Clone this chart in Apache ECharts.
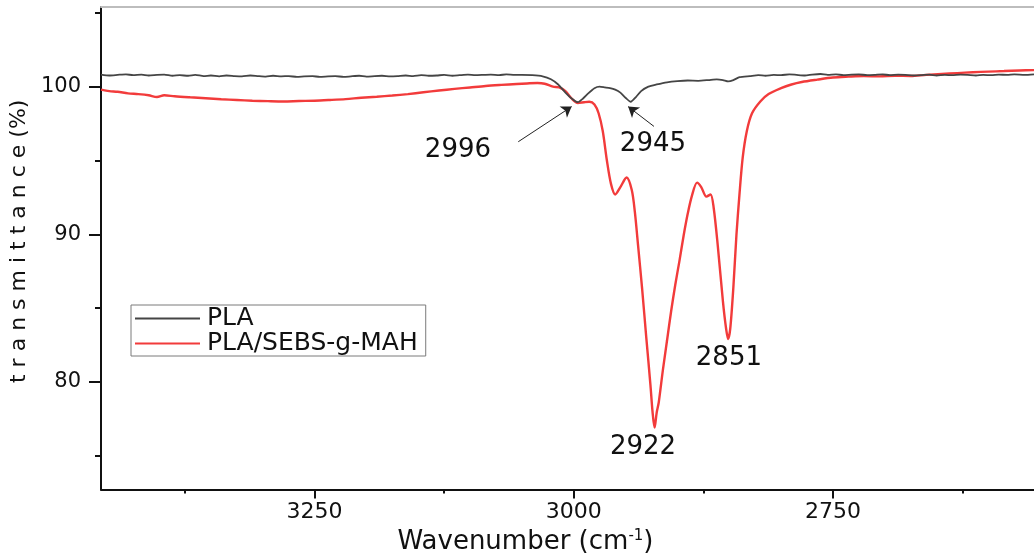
<!DOCTYPE html>
<html>
<head>
<meta charset="utf-8">
<script src="https://cdn.jsdelivr.net/npm/echarts@6/dist/echarts.min.js"></script>
<style>
  html, body { margin: 0; padding: 0; background: #fff; }
  #chart { width: 1034px; height: 560px; }
</style>
</head>
<body>
<div id="chart"></div>
<script>
// FTIR spectra, C-H stretching region (wavenumber in cm-1, transmittance in %)
const plaWavenumber = [3456,3448,3440,3432,3425,3417,3410,3402,3395,3387,3380,3372,3365,3357,3350,3342,3335,3327,3320,3312,3305,3297,3290,3282,3275,3267,3260,3252,3245,3237,3230,3222,3215,3207,3200,3192,3185,3177,3170,3162,3155,3147,3140,3132,3125,3117,3110,3102,3095,3087,3080,3072,3065,3057,3050,3040,3030,3022,3015,3008,3002,2996,2991,2986,2980,2975,2970,2965,2960,2955,2950,2945,2940,2935,2928,2920,2910,2900,2890,2880,2870,2862,2856,2851,2846,2840,2830,2822,2815,2807,2800,2792,2785,2777,2770,2762,2755,2747,2740,2732,2725,2717,2710,2702,2695,2687,2680,2672,2665,2657,2650,2642,2635,2627,2620,2612,2605,2597,2590,2582,2575,2565,2556];
const plaTransmittance = [100.82,100.76,100.80,100.84,100.78,100.82,100.76,100.80,100.82,100.74,100.78,100.74,100.80,100.72,100.76,100.70,100.76,100.72,100.70,100.76,100.72,100.68,100.74,100.70,100.72,100.66,100.70,100.72,100.66,100.70,100.72,100.66,100.70,100.74,100.68,100.72,100.74,100.70,100.72,100.76,100.72,100.78,100.74,100.76,100.80,100.74,100.78,100.82,100.78,100.80,100.82,100.78,100.84,100.80,100.80,100.78,100.70,100.50,100.15,99.60,99.20,98.95,99.20,99.55,99.90,100.00,99.95,99.90,99.80,99.60,99.25,98.98,99.30,99.70,100.00,100.15,100.30,100.38,100.42,100.40,100.45,100.50,100.45,100.36,100.45,100.65,100.72,100.78,100.74,100.80,100.78,100.84,100.80,100.76,100.82,100.86,100.80,100.84,100.78,100.82,100.84,100.78,100.80,100.84,100.78,100.82,100.80,100.76,100.78,100.82,100.76,100.80,100.78,100.82,100.80,100.76,100.80,100.78,100.82,100.80,100.84,100.80,100.84];

const blendWavenumber = [3456,3448,3440,3430,3420,3410,3402,3395,3385,3370,3355,3340,3325,3310,3295,3280,3265,3250,3235,3220,3205,3190,3175,3160,3145,3130,3115,3100,3085,3070,3055,3045,3035,3028,3020,3014,3008,3002,2996,2990,2985,2980,2976,2972,2968,2964,2960,2955,2949,2944,2941,2938,2934,2930,2926,2924,2922,2920,2918,2914,2910,2906,2902,2898,2894,2890,2886,2881,2877,2872,2868,2865,2861,2856,2853,2851,2849,2846,2843,2840,2837,2833,2828,2820,2812,2800,2790,2780,2765,2750,2735,2720,2705,2690,2675,2660,2645,2630,2615,2600,2585,2570,2556];
const blendTransmittance = [99.80,99.70,99.66,99.55,99.50,99.42,99.30,99.42,99.35,99.28,99.22,99.15,99.10,99.05,99.02,99.00,99.03,99.05,99.10,99.16,99.25,99.32,99.40,99.50,99.62,99.74,99.85,99.95,100.05,100.12,100.18,100.22,100.25,100.20,100.00,99.96,99.70,99.20,98.90,98.95,98.98,98.80,98.20,97.00,95.00,93.40,92.70,93.20,93.85,93.00,91.50,89.30,86.30,83.00,79.80,78.00,76.90,77.90,78.60,80.80,82.80,84.80,86.60,88.20,89.90,91.40,92.60,93.50,93.20,92.55,92.70,91.80,89.20,85.40,83.60,82.90,83.60,86.40,90.00,92.80,95.20,97.00,98.20,99.00,99.50,99.90,100.15,100.32,100.48,100.62,100.68,100.72,100.70,100.74,100.72,100.80,100.86,100.92,100.98,101.02,101.06,101.10,101.12];

// Annotated band positions (cm-1)
const plaBands = [2996, 2945];
const blendBands = [2922, 2851];

const xMajorTicks = [3250, 3000, 2750];
const xMinorTicks = [3375, 3125, 2875, 2625];
const yMajorTicks = [80, 90, 100];
const yMinorTicks = [75, 85, 95, 105];

const FONT = 'DejaVu Sans';

function pairs(xs, ys) { return xs.map((x, i) => [x, ys[i]]); }

const chart = echarts.init(document.getElementById('chart'), null, { renderer: 'canvas' });

const xRange = { min: 2556, max: 3456, inverse: true };
const yRange = { min: 72.7, max: 105.4 };
const plain = v => String(v);

const option = {
  animation: false,
  backgroundColor: '#ffffff',
  grid: { left: 101, right: 0, top: 7, bottom: 63, containLabel: false },
  legend: {
    orient: 'vertical',
    left: 131,
    top: 305,
    padding: [1, 8, 0, 4],
    itemGap: 0,
    itemWidth: 65,
    itemHeight: 2,
    icon: 'rect',
    borderColor: '#7a7a7a',
    borderWidth: 1,
    textStyle: { fontFamily: FONT, fontSize: 25, lineHeight: 24, color: '#111', padding: [0, 0, 0, 2] },
    data: ['PLA', 'PLA/SEBS-g-MAH']
  },
  xAxis: [
    {
      type: 'value', ...xRange, position: 'bottom',
      name: 'Wavenumber (cm{sup|-1})',
      nameLocation: 'middle', nameGap: 30,
      nameTextStyle: {
        fontFamily: FONT, fontSize: 26, color: '#111', padding: [0, 84, 0, 0],
        rich: { sup: { fontFamily: FONT, fontSize: 15, verticalAlign: 'top', padding: [0, 0, 12, 0], color: '#111' } }
      },
      axisLine: { show: true, onZero: false, lineStyle: { color: '#111', width: 2 } },
      axisTick: { show: true, inside: false, length: 9, customValues: xMajorTicks, lineStyle: { color: '#111', width: 2 } },
      axisLabel: { show: true, customValues: xMajorTicks, formatter: plain, margin: 12, fontFamily: FONT, fontSize: 22, color: '#111' },
      splitLine: { show: false }
    },
    {
      type: 'value', ...xRange, position: 'bottom',
      axisLine: { show: false, onZero: false },
      axisTick: { show: true, inside: false, length: 4, customValues: xMinorTicks, lineStyle: { color: '#111', width: 2 } },
      axisLabel: { show: false },
      splitLine: { show: false }
    },
    {
      type: 'value', ...xRange, position: 'top',
      axisLine: { show: true, onZero: false, lineStyle: { color: '#bdbdbd', width: 2 } },
      axisTick: { show: false },
      axisLabel: { show: false },
      splitLine: { show: false }
    }
  ],
  yAxis: [
    {
      type: 'value', ...yRange, position: 'left',
      name: 't r a n s m i t t a n c e (%)',
      nameLocation: 'middle', nameGap: 48,
      nameTextStyle: { fontFamily: FONT, fontSize: 22, color: '#111', padding: [0, 0, 0, 14] },
      axisLine: { show: true, onZero: false, lineStyle: { color: '#111', width: 2 } },
      axisTick: { show: true, inside: false, length: 12, customValues: yMajorTicks, lineStyle: { color: '#111', width: 2 } },
      axisLabel: { show: true, customValues: yMajorTicks, formatter: plain, margin: 20, fontFamily: FONT, fontSize: 21, color: '#111' },
      splitLine: { show: false }
    },
    {
      type: 'value', ...yRange, position: 'left',
      axisLine: { show: false, onZero: false },
      axisTick: { show: true, inside: false, length: 6, customValues: yMinorTicks, lineStyle: { color: '#111', width: 2 } },
      axisLabel: { show: false },
      splitLine: { show: false }
    }
  ],
  series: [
    {
      name: 'PLA',
      type: 'line',
      xAxisIndex: 0, yAxisIndex: 0,
      data: pairs(plaWavenumber, plaTransmittance),
      symbol: 'none',
      smooth: 0.2,
      lineStyle: { color: '#454545', width: 1.8 },
      itemStyle: { color: '#454545' },
      z: 3,
      markLine: {
        silent: true,
        symbol: ['none', 'arrow'],
        symbolSize: 10,
        label: { show: false },
        emphasis: { disabled: true },
        lineStyle: { color: '#222', width: 1, type: 'solid' },
        data: [
          [{ coord: [3053.5, 96.27] }, { coord: [plaBands[0] + 6, 98.65] }],
          [{ coord: [2922.6, 97.31] }, { coord: [plaBands[1] + 2.5, 98.65] }]
        ]
      },
      markPoint: {
        silent: true,
        symbol: 'circle', symbolSize: 0,
        label: { show: true, position: 'inside', fontFamily: FONT, fontSize: 26, color: '#111' },
        data: [
          { coord: [3111.7, 95.67], value: plaBands[0], label: { formatter: String(plaBands[0]) } },
          { coord: [2923.6, 96.13], value: plaBands[1], label: { formatter: String(plaBands[1]) } }
        ]
      }
    },
    {
      name: 'PLA/SEBS-g-MAH',
      type: 'line',
      xAxisIndex: 0, yAxisIndex: 0,
      data: pairs(blendWavenumber, blendTransmittance),
      symbol: 'none',
      smooth: 0.3,
      lineStyle: { color: '#f23b3b', width: 2.4 },
      itemStyle: { color: '#f23b3b' },
      z: 2,
      markPoint: {
        silent: true,
        symbol: 'circle', symbolSize: 0,
        label: { show: true, position: 'inside', fontFamily: FONT, fontSize: 26, color: '#111' },
        data: [
          { coord: [2933.2, 75.6], value: blendBands[0], label: { formatter: String(blendBands[0]) } },
          { coord: [2850.3, 81.6], value: blendBands[1], label: { formatter: String(blendBands[1]) } }
        ]
      }
    }
  ]
};

chart.setOption(option);
</script>
</body>
</html>
